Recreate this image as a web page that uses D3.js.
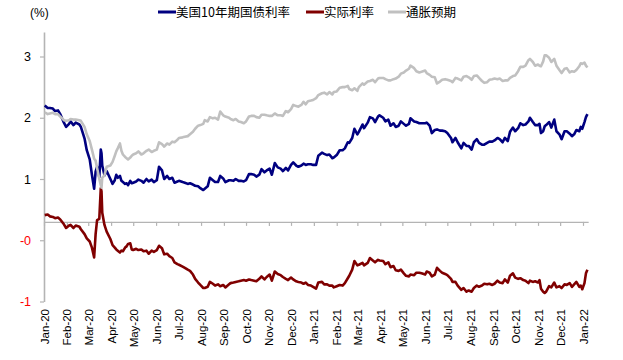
<!DOCTYPE html>
<html><head><meta charset="utf-8">
<script src="https://cdn.jsdelivr.net/npm/d3@7/dist/d3.min.js"></script>
<style>body{margin:0;background:#fff}svg{display:block}</style>
</head><body><svg id="c" width="623" height="360"></svg>
<script>
const dates = [
"2020-01-02","2020-01-06","2020-01-09","2020-01-13","2020-01-16","2020-01-20","2020-01-23","2020-01-28","2020-01-31","2020-02-04",
"2020-02-06","2020-02-10","2020-02-13","2020-02-18","2020-02-20","2020-02-25","2020-02-28","2020-03-03","2020-03-06","2020-03-09",
"2020-03-11","2020-03-13","2020-03-16","2020-03-18","2020-03-19","2020-03-20","2020-03-23","2020-03-26","2020-03-31","2020-04-03",
"2020-04-06","2020-04-08","2020-04-10","2020-04-13","2020-04-15","2020-04-17","2020-04-20","2020-04-22","2020-04-24","2020-04-27",
"2020-04-29","2020-05-01","2020-05-05","2020-05-08","2020-05-12","2020-05-15","2020-05-19","2020-05-22","2020-05-26","2020-05-29",
"2020-06-02","2020-06-05","2020-06-09","2020-06-12","2020-06-16","2020-06-19","2020-06-23","2020-06-26","2020-06-30","2020-07-02",
"2020-07-07","2020-07-10","2020-07-14","2020-07-17","2020-07-21","2020-07-24","2020-07-28","2020-07-31","2020-08-04","2020-08-06",
"2020-08-10","2020-08-13","2020-08-17","2020-08-20","2020-08-24","2020-08-27","2020-08-31","2020-09-03","2020-09-08","2020-09-10",
"2020-09-14","2020-09-17","2020-09-21","2020-09-24","2020-09-28","2020-10-01","2020-10-05","2020-10-08","2020-10-12","2020-10-15",
"2020-10-19","2020-10-22","2020-10-26","2020-10-29","2020-11-02","2020-11-05","2020-11-09","2020-11-13","2020-11-17","2020-11-20",
"2020-11-24","2020-11-27","2020-12-01","2020-12-04","2020-12-08","2020-12-11","2020-12-15","2020-12-18","2020-12-21","2020-12-24",
"2020-12-28","2020-12-31","2021-01-04","2021-01-07","2021-01-12","2021-01-15","2021-01-19","2021-01-22","2021-01-26","2021-01-28",
"2021-02-01","2021-02-05","2021-02-09","2021-02-12","2021-02-16","2021-02-18","2021-02-22","2021-02-25","2021-03-01","2021-03-03",
"2021-03-08","2021-03-10","2021-03-15","2021-03-18","2021-03-22","2021-03-25","2021-03-29","2021-03-31","2021-04-05","2021-04-08",
"2021-04-12","2021-04-15","2021-04-19","2021-04-22","2021-04-26","2021-04-29","2021-05-03","2021-05-06","2021-05-10","2021-05-12",
"2021-05-17","2021-05-20","2021-05-24","2021-05-27","2021-06-01","2021-06-03","2021-06-07","2021-06-10","2021-06-14","2021-06-17",
"2021-06-21","2021-06-24","2021-06-28","2021-07-01","2021-07-06","2021-07-08","2021-07-12","2021-07-15","2021-07-20","2021-07-23",
"2021-07-27","2021-07-30","2021-08-03","2021-08-06","2021-08-10","2021-08-13","2021-08-17","2021-08-20","2021-08-24","2021-08-27",
"2021-08-31","2021-09-03","2021-09-07","2021-09-10","2021-09-14","2021-09-17","2021-09-21","2021-09-24","2021-09-28","2021-10-01",
"2021-10-05","2021-10-08","2021-10-12","2021-10-15","2021-10-19","2021-10-21","2021-10-25","2021-10-28","2021-11-01","2021-11-03",
"2021-11-05","2021-11-08","2021-11-10","2021-11-12","2021-11-16","2021-11-19","2021-11-23","2021-11-26","2021-11-30","2021-12-03",
"2021-12-07","2021-12-10","2021-12-14","2021-12-17","2021-12-20","2021-12-23","2021-12-27","2021-12-29","2021-12-31","2022-01-03",
"2022-01-05","2022-01-07"];

const us10y = [
1.90,1.86,1.86,1.85,1.81,1.82,1.76,1.62,1.55,1.60,
1.64,1.58,1.62,1.59,1.55,1.36,1.17,1.02,0.77,0.54,
0.82,0.90,0.73,1.18,1.12,0.92,0.76,0.83,0.70,0.62,
0.68,0.77,0.72,0.75,0.67,0.65,0.62,0.63,0.60,0.67,
0.63,0.64,0.66,0.69,0.67,0.64,0.70,0.66,0.69,0.65,
0.68,0.90,0.84,0.70,0.75,0.70,0.72,0.64,0.66,0.67,
0.65,0.64,0.62,0.63,0.61,0.59,0.58,0.55,0.52,0.54,
0.58,0.72,0.68,0.65,0.65,0.75,0.71,0.65,0.68,0.68,
0.67,0.70,0.67,0.67,0.66,0.68,0.78,0.78,0.77,0.74,
0.77,0.86,0.81,0.84,0.87,0.77,0.96,0.89,0.87,0.83,
0.88,0.84,0.93,0.97,0.92,0.90,0.92,0.95,0.93,0.94,
0.94,0.93,0.93,1.08,1.13,1.11,1.09,1.10,1.04,1.05,
1.09,1.17,1.17,1.20,1.30,1.29,1.37,1.52,1.43,1.47,
1.59,1.53,1.62,1.71,1.69,1.63,1.72,1.74,1.70,1.64,
1.67,1.57,1.61,1.55,1.57,1.64,1.60,1.57,1.60,1.69,
1.64,1.63,1.61,1.61,1.61,1.62,1.57,1.45,1.50,1.51,
1.49,1.49,1.48,1.45,1.37,1.30,1.37,1.30,1.20,1.29,
1.24,1.24,1.18,1.30,1.35,1.29,1.26,1.26,1.29,1.31,
1.31,1.33,1.37,1.35,1.30,1.37,1.32,1.47,1.54,1.48,
1.53,1.61,1.58,1.59,1.64,1.70,1.63,1.58,1.58,1.60,
1.45,1.48,1.56,1.58,1.63,1.54,1.67,1.48,1.43,1.35,
1.48,1.48,1.44,1.40,1.43,1.50,1.48,1.55,1.52,1.63,
1.71,1.76];

const realRate = [
0.11,0.12,0.09,0.08,0.06,0.07,0.04,-0.04,-0.10,-0.06,
-0.05,-0.10,-0.06,-0.08,-0.12,-0.20,-0.27,-0.32,-0.42,-0.58,
-0.20,0.03,0.05,0.55,0.50,0.15,-0.05,-0.16,-0.28,-0.38,
-0.42,-0.45,-0.47,-0.50,-0.47,-0.48,-0.42,-0.40,-0.36,-0.35,
-0.45,-0.46,-0.44,-0.46,-0.45,-0.48,-0.47,-0.52,-0.47,-0.49,
-0.46,-0.39,-0.43,-0.53,-0.52,-0.56,-0.59,-0.66,-0.69,-0.70,
-0.73,-0.75,-0.78,-0.80,-0.86,-0.93,-0.99,-1.03,-1.08,-1.08,
-1.06,-0.98,-1.01,-1.04,-1.02,-1.05,-1.03,-1.07,-1.02,-1.00,
-0.99,-0.98,-0.97,-0.96,-0.95,-0.96,-0.94,-0.95,-0.96,-0.97,
-0.93,-0.89,-0.94,-0.90,-0.86,-0.96,-0.81,-0.85,-0.87,-0.90,
-0.93,-0.95,-0.91,-0.94,-0.97,-0.98,-0.99,-1.01,-0.99,-1.03,
-1.04,-1.06,-1.09,-0.99,-0.98,-1.02,-1.02,-1.04,-1.04,-1.07,
-1.05,-1.03,-1.04,-1.00,-0.92,-0.88,-0.78,-0.64,-0.71,-0.70,
-0.67,-0.71,-0.67,-0.59,-0.63,-0.66,-0.62,-0.63,-0.64,-0.69,
-0.66,-0.74,-0.72,-0.79,-0.80,-0.78,-0.84,-0.88,-0.89,-0.86,
-0.87,-0.83,-0.83,-0.84,-0.86,-0.81,-0.83,-0.89,-0.86,-0.75,
-0.80,-0.83,-0.85,-0.87,-0.93,-0.98,-0.98,-1.04,-1.11,-1.08,
-1.14,-1.12,-1.14,-1.08,-1.04,-1.06,-1.04,-1.01,-1.02,-1.01,
-1.03,-1.01,-0.96,-0.99,-1.00,-0.94,-0.99,-0.88,-0.84,-0.91,
-0.93,-0.92,-0.95,-0.96,-1.00,-0.96,-0.98,-0.97,-0.99,-0.95,
-1.09,-1.14,-1.16,-1.14,-1.05,-1.07,-0.99,-1.07,-1.05,-1.08,
-1.02,-1.03,-1.00,-1.06,-1.02,-0.98,-1.06,-1.04,-1.10,-1.00,
-0.84,-0.78];

const breakeven = [
1.79,1.76,1.77,1.78,1.76,1.76,1.72,1.66,1.65,1.66,
1.68,1.67,1.67,1.66,1.65,1.55,1.43,1.32,1.18,1.03,
1.00,0.88,0.70,0.60,0.56,0.72,0.76,0.90,0.92,0.98,
1.08,1.15,1.20,1.28,1.16,1.10,1.06,1.04,1.02,1.05,
1.08,1.10,1.12,1.15,1.10,1.12,1.16,1.18,1.14,1.16,
1.18,1.30,1.27,1.23,1.28,1.26,1.31,1.30,1.34,1.37,
1.38,1.39,1.40,1.43,1.47,1.52,1.57,1.58,1.60,1.66,
1.64,1.71,1.69,1.70,1.67,1.80,1.74,1.72,1.70,1.68,
1.66,1.68,1.64,1.63,1.61,1.64,1.72,1.73,1.73,1.71,
1.70,1.75,1.75,1.74,1.73,1.73,1.77,1.74,1.74,1.73,
1.81,1.79,1.84,1.91,1.89,1.88,1.91,1.96,1.92,1.97,
1.98,1.99,2.02,2.07,2.10,2.11,2.08,2.12,2.08,2.12,
2.13,2.19,2.20,2.20,2.22,2.17,2.15,2.18,2.14,2.20,
2.26,2.24,2.29,2.30,2.32,2.28,2.34,2.35,2.35,2.33,
2.31,2.31,2.33,2.34,2.37,2.42,2.44,2.47,2.50,2.55,
2.51,2.46,2.44,2.45,2.47,2.43,2.40,2.37,2.36,2.26,
2.29,2.32,2.33,2.32,2.30,2.28,2.35,2.34,2.31,2.37,
2.38,2.36,2.32,2.38,2.39,2.35,2.30,2.27,2.28,2.32,
2.33,2.34,2.33,2.34,2.30,2.31,2.31,2.35,2.38,2.39,
2.46,2.53,2.53,2.55,2.64,2.66,2.61,2.55,2.57,2.55,
2.54,2.62,2.72,2.72,2.68,2.61,2.66,2.55,2.48,2.43,
2.50,2.51,2.44,2.46,2.45,2.48,2.54,2.59,2.58,2.60,
2.55,2.52];

const seriesNames = ["美国10年期国债利率","实际利率","通胀预期"];
const yTickValues = [-1.3,-0.3,0.7,1.7,2.7];
const yTickLabels = ["-1","-0","1","2","3"];
const monthLabels = ["Jan-20","Feb-20","Mar-20","Apr-20","May-20","Jun-20","Jul-20","Aug-20","Sep-20","Oct-20","Nov-20","Dec-20",
"Jan-21","Feb-21","Mar-21","Apr-21","May-21","Jun-21","Jul-21","Aug-21","Sep-21","Oct-21","Nov-21","Dec-21","Jan-22"];
const unitLabel = "(%)";

const colors = ["#000080","#800000","#c0c0c0"];
const axisColor = "#b4b4b4";
const latin = "'Liberation Sans', Arial, sans-serif";
const cjk = "'Noto Sans CJK SC', 'Liberation Sans', sans-serif";

const parse = d3.timeParse("%Y-%m-%d");
const dts = dates.map(parse);
const seriesVals = [us10y, realRate, breakeven];

const svg = d3.select("#c");
const start = new Date(2020,0,1), endTick = new Date(2022,0,1);
const x = d3.scaleTime().domain([start, endTick]).range([44, 583]);
const lastEnd = d3.timeDay.offset(dts[dts.length-1], 1);
const xAxisScale = x.copy().domain([start, lastEnd]).range([x(start), x(lastEnd)]);
const y = d3.scaleLinear().domain([-1.3, 3.1]).range([301.5, 32]);

const monthDates = d3.timeMonth.range(start, d3.timeDay.offset(endTick,1));

// y axis
const gy = svg.append("g").attr("transform", `translate(${x(start)},0)`)
  .call(d3.axisLeft(y).tickValues(yTickValues).tickSize(4).tickSizeOuter(0)
    .tickFormat((d,i)=>yTickLabels[i]));
gy.select(".domain").attr("stroke", axisColor).attr("stroke-width", 1.6);
gy.selectAll(".tick line").attr("stroke", axisColor).attr("stroke-width", 1.2);
gy.selectAll(".tick text").attr("x", -13).attr("font-family", latin).attr("font-size", 12.5)
  .attr("fill", (d,i)=> yTickLabels[i].startsWith("-") ? "#ff0000" : "#000");

// x axis line at 0
const gx = svg.append("g").attr("transform", `translate(0,${y(0)})`)
  .call(d3.axisBottom(xAxisScale).tickValues(monthDates).tickSize(4).tickSizeOuter(0).tickFormat(""));
gx.select(".domain").attr("stroke", axisColor).attr("stroke-width", 1.4);
gx.selectAll(".tick line").attr("stroke", axisColor).attr("stroke-width", 1.2);

// x labels at bottom
const gl = svg.append("g").attr("transform", `translate(0,309)`)
  .call(d3.axisBottom(xAxisScale).tickValues(monthDates).tickSize(0).tickFormat((d,i)=>monthLabels[i]));
gl.select(".domain").remove();
gl.selectAll(".tick text").attr("transform","rotate(-90)").attr("x",0).attr("y",0)
  .attr("dy","0.35em").attr("text-anchor","end")
  .attr("font-family", latin).attr("font-size", 11.5).attr("fill","#000");

// lines
const line = d3.line().x((d,i)=>x(dts[i])).y(d=>y(d));
seriesVals.forEach((vals,k)=>{
  svg.append("path").datum(vals).attr("d", line).attr("fill","none")
    .attr("stroke", colors[k]).attr("stroke-width", 2.6).attr("stroke-linejoin","round");
});

// legend
svg.append("text").attr("x", 30).attr("y", 17).text(unitLabel)
  .attr("font-family", latin).attr("font-size", 12).attr("fill","#000");
const legX = [158, 306, 388];
seriesNames.forEach((n,k)=>{
  const g = svg.append("g").attr("transform", `translate(${legX[k]},12)`);
  g.append("line").attr("x1",0).attr("x2",18).attr("y1",0).attr("y2",0)
    .attr("stroke", colors[k]).attr("stroke-width", 3);
  g.append("text").attr("x",18).attr("y",0).attr("dy","0.36em").text(n)
    .attr("font-family", cjk).attr("font-size", 12.5).attr("fill","#000");
});
</script></body></html>
